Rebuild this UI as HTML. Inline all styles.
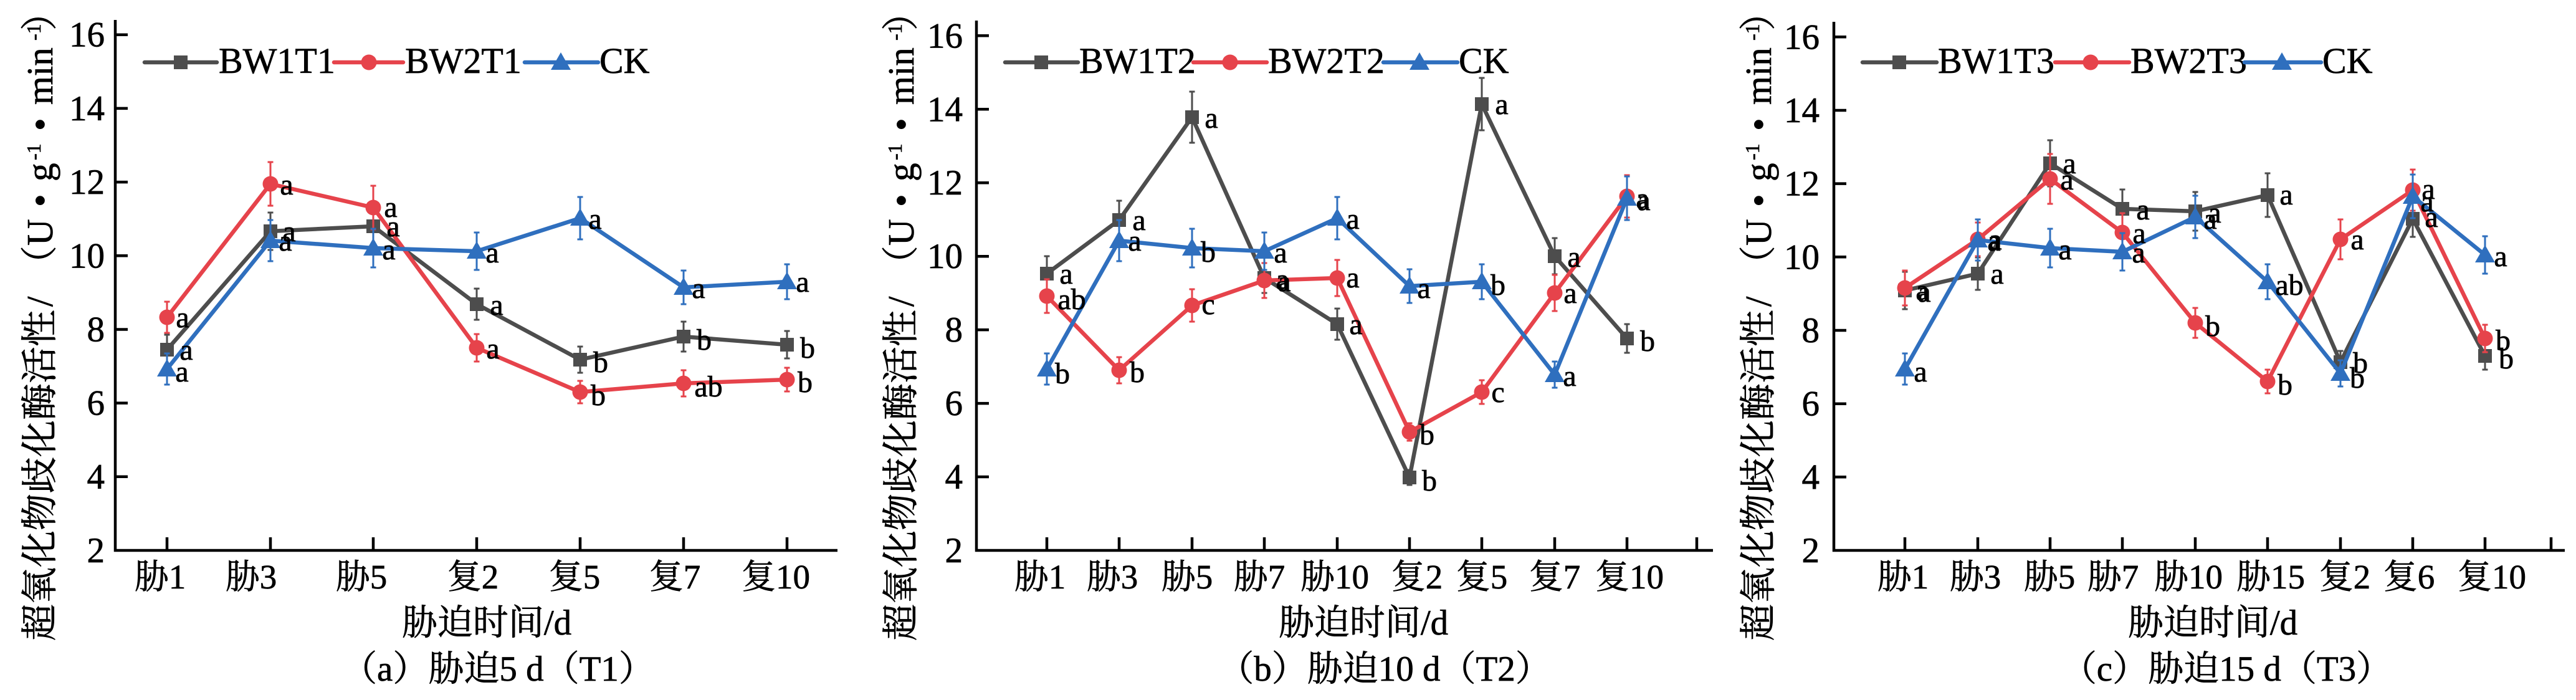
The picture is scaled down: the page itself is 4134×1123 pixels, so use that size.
<!DOCTYPE html>
<html><head><meta charset="utf-8"><style>
html,body{margin:0;padding:0;background:#fff;}
svg{display:block;}
text{font-family:"Liberation Serif","Noto Serif CJK SC",serif;fill:#000;stroke:#000;stroke-width:0.7px;}
.ax{stroke:#000;stroke-width:4.5;fill:none;}
.eg{stroke:#4d4d4d;stroke-width:3;fill:none;}
.er{stroke:#e6434b;stroke-width:3;fill:none;}
.eb{stroke:#2f6fbe;stroke-width:3;fill:none;}
.lg{stroke:#4d4d4d;stroke-width:6.5;fill:none;stroke-linejoin:round;stroke-linecap:round;}
.lr{stroke:#e6434b;stroke-width:6.5;fill:none;stroke-linejoin:round;stroke-linecap:round;}
.lb{stroke:#2f6fbe;stroke-width:6.5;fill:none;stroke-linejoin:round;stroke-linecap:round;}
.yl{font-size:57px;text-anchor:end;}
.xl{font-size:55px;text-anchor:middle;}
.lt{font-size:48px;text-anchor:middle;}
.lgt{font-size:58px;}
.ttl{font-size:57px;text-anchor:middle;}
</style></head><body>
<svg width="4134" height="1123" viewBox="0 0 4134 1123" xmlns="http://www.w3.org/2000/svg" font-family="Liberation Serif, Noto Serif CJK SC, serif">
<rect width="4134" height="1123" fill="#fff"/>
<defs>
<rect id="sq" x="-11" y="-11" width="22" height="22"/>
<circle id="ci" r="12.5"/>
<path id="tri" d="M0,-16L16,12L-16,12Z"/>
</defs>

<!-- ================= PANEL 1 ================= -->
<path class="ax" d="M185 32V883H1344"/>
<path class="ax" d="M185 55.7h20M185 173.9h20M185 292.1h20M185 410.3h20M185 528.5h20M185 646.6h20M185 764.8h20"/>
<path class="ax" d="M268 883v-21M434 883v-21M599 883v-21M765 883v-21M931 883v-21M1097 883v-21M1263 883v-21"/>
<text class="yl" x="168" y="74.7">16</text>
<text class="yl" x="168" y="192.9">14</text>
<text class="yl" x="168" y="311.1">12</text>
<text class="yl" x="168" y="429.3">10</text>
<text class="yl" x="168" y="547.5">8</text>
<text class="yl" x="168" y="665.6">6</text>
<text class="yl" x="168" y="783.8">4</text>
<text class="yl" x="168" y="902">2</text>
<text class="xl" x="257" y="944">胁1</text>
<text class="xl" x="403" y="944">胁3</text>
<text class="xl" x="580" y="944">胁5</text>
<text class="xl" x="759" y="944">复2</text>
<text class="xl" x="922" y="944">复5</text>
<text class="xl" x="1083" y="944">复7</text>
<text class="xl" x="1245" y="944">复10</text>
<text class="ttl" x="781" y="1018">胁迫时间/d</text>
<text class="ttl" x="799" y="1092">（a）胁迫5 d（T1）</text>
<text transform="translate(84,1024) rotate(-90)" font-size="59"><tspan x="-4" y="0">超氧化物歧化酶活性</tspan><tspan x="532" y="0">/</tspan><tspan x="571" y="0">（</tspan><tspan x="630" y="0">U</tspan><tspan x="692" y="0">•</tspan><tspan x="733" y="0">g</tspan><tspan x="767" y="-19" font-size="32">-1</tspan><tspan x="814" y="0">•</tspan><tspan x="856" y="0">min</tspan><tspan x="959" y="-19" font-size="32">-1</tspan><tspan x="975" y="0">）</tspan></text>

<path class="eg" d="M268 537V585M263.5 537h9M263.5 585h9M434 341V401M429.5 341h9M429.5 401h9M599 333V393M594.5 333h9M594.5 393h9M765 463V513M760.5 463h9M760.5 513h9M931 556V598M926.5 556h9M926.5 598h9M1097 516V564M1092.5 516h9M1092.5 564h9M1263 531V575M1258.5 531h9M1258.5 575h9"/>
<polyline class="lg" points="268,561 434,371 599,363 765,488 931,577 1097,540 1263,553"/>
<g fill="#4d4d4d"><use href="#sq" x="268" y="561"/><use href="#sq" x="434" y="371"/><use href="#sq" x="599" y="363"/><use href="#sq" x="765" y="488"/><use href="#sq" x="931" y="577"/><use href="#sq" x="1097" y="540"/><use href="#sq" x="1263" y="553"/></g>
<path class="er" d="M268 484V534M263.5 484h9M263.5 534h9M434 260V330M429.5 260h9M429.5 330h9M599 298V368M594.5 298h9M594.5 368h9M765 536V580M760.5 536h9M760.5 580h9M931 611V647M926.5 611h9M926.5 647h9M1097 594V636M1092.5 594h9M1092.5 636h9M1263 590V628M1258.5 590h9M1258.5 628h9"/>
<polyline class="lr" points="268,509 434,295 599,333 765,558 931,629 1097,615 1263,609"/>
<g fill="#e6434b"><use href="#ci" x="268" y="509"/><use href="#ci" x="434" y="295"/><use href="#ci" x="599" y="333"/><use href="#ci" x="765" y="558"/><use href="#ci" x="931" y="629"/><use href="#ci" x="1097" y="615"/><use href="#ci" x="1263" y="609"/></g>
<path class="eb" d="M268 567V617M263.5 567h9M263.5 617h9M434 353V419M429.5 353h9M429.5 419h9M599 367V429M594.5 367h9M594.5 429h9M765 373V433M760.5 373h9M760.5 433h9M931 316V384M926.5 316h9M926.5 384h9M1097 434V488M1092.5 434h9M1092.5 488h9M1263 424V480M1258.5 424h9M1258.5 480h9"/>
<polyline class="lb" points="268,592 434,386 599,398 765,403 931,350 1097,461 1263,452"/>
<g fill="#2f6fbe"><use href="#tri" x="268" y="592"/><use href="#tri" x="434" y="386"/><use href="#tri" x="599" y="398"/><use href="#tri" x="765" y="403"/><use href="#tri" x="931" y="350"/><use href="#tri" x="1097" y="461"/><use href="#tri" x="1263" y="452"/></g>
<g>
<text class="lt" x="293" y="525">a</text><text class="lt" x="299" y="577">a</text><text class="lt" x="292" y="612">a</text>
<text class="lt" x="460" y="312">a</text><text class="lt" x="464" y="387">a</text><text class="lt" x="458" y="402">a</text>
<text class="lt" x="627" y="348">a</text><text class="lt" x="631" y="379">a</text><text class="lt" x="624" y="416">a</text>
<text class="lt" x="790" y="421">a</text><text class="lt" x="797" y="505">a</text><text class="lt" x="791" y="575">a</text>
<text class="lt" x="955" y="367">a</text><text class="lt" x="964" y="597">b</text><text class="lt" x="960" y="650">b</text>
<text class="lt" x="1121" y="478">a</text><text class="lt" x="1130" y="561">b</text><text class="lt" x="1137" y="636">ab</text>
<text class="lt" x="1288" y="468">a</text><text class="lt" x="1296" y="574">b</text><text class="lt" x="1292" y="629">b</text>
</g>
<line class="lg" x1="232" y1="100" x2="348" y2="100"/><use href="#sq" x="290" y="100" fill="#4d4d4d"/>
<text class="lgt" x="351" y="117">BW1T1</text>
<line class="lr" x1="536" y1="100" x2="647" y2="100"/><use href="#ci" x="592" y="100" fill="#e6434b"/>
<text class="lgt" x="650" y="117">BW2T1</text>
<line class="lb" x1="842" y1="100" x2="960" y2="100"/><use href="#tri" x="900" y="100" fill="#2f6fbe"/>
<text class="lgt" x="962" y="117">CK</text>

<!-- ================= PANEL 2 ================= -->
<path class="ax" d="M1567 33V883H2749"/>
<path class="ax" d="M1567 57.3h20M1567 175.3h20M1567 293.2h20M1567 411.2h20M1567 529.1h20M1567 647.1h20M1567 765h20"/>
<path class="ax" d="M1680 883v-21M1796 883v-21M1913 883v-21M2029 883v-21M2146 883v-21M2262 883v-21M2378 883v-21M2495 883v-21M2611 883v-21M2723 883v-21"/>
<text class="yl" x="1545" y="76.3">16</text>
<text class="yl" x="1545" y="194.3">14</text>
<text class="yl" x="1545" y="312.2">12</text>
<text class="yl" x="1545" y="430.2">10</text>
<text class="yl" x="1545" y="548.1">8</text>
<text class="yl" x="1545" y="666.1">6</text>
<text class="yl" x="1545" y="784">4</text>
<text class="yl" x="1545" y="902">2</text>
<text class="xl" x="1669" y="944">胁1</text>
<text class="xl" x="1785" y="944">胁3</text>
<text class="xl" x="1905" y="944">胁5</text>
<text class="xl" x="2021" y="944">胁7</text>
<text class="xl" x="2142" y="944">胁10</text>
<text class="xl" x="2274" y="944">复2</text>
<text class="xl" x="2378" y="944">复5</text>
<text class="xl" x="2495" y="944">复7</text>
<text class="xl" x="2615" y="944">复10</text>
<text class="ttl" x="2188" y="1018">胁迫时间/d</text>
<text class="ttl" x="2222" y="1092">（b）胁迫10 d（T2）</text>
<text transform="translate(1466,1024) rotate(-90)" font-size="59"><tspan x="-4" y="0">超氧化物歧化酶活性</tspan><tspan x="532" y="0">/</tspan><tspan x="571" y="0">（</tspan><tspan x="630" y="0">U</tspan><tspan x="692" y="0">•</tspan><tspan x="733" y="0">g</tspan><tspan x="767" y="-19" font-size="32">-1</tspan><tspan x="814" y="0">•</tspan><tspan x="856" y="0">min</tspan><tspan x="959" y="-19" font-size="32">-1</tspan><tspan x="975" y="0">）</tspan></text>

<path class="eg" d="M1680 411V467M1675.5 411h9M1675.5 467h9M1796 322V384M1791.5 322h9M1791.5 384h9M1913 147V229M1908.5 147h9M1908.5 229h9M2029 422V470M2024.5 422h9M2024.5 470h9M2146 495V545M2141.5 495h9M2141.5 545h9M2262 754V778M2257.5 754h9M2257.5 778h9M2378 125V209M2373.5 125h9M2373.5 209h9M2495 382V440M2490.5 382h9M2490.5 440h9M2611 520V566M2606.5 520h9M2606.5 566h9"/>
<polyline class="lg" points="1680,439 1796,353 1913,188 2029,446 2146,520 2262,766 2378,167 2495,411 2611,543"/>
<g fill="#4d4d4d"><use href="#sq" x="1680" y="439"/><use href="#sq" x="1796" y="353"/><use href="#sq" x="1913" y="188"/><use href="#sq" x="2029" y="446"/><use href="#sq" x="2146" y="520"/><use href="#sq" x="2262" y="766"/><use href="#sq" x="2378" y="167"/><use href="#sq" x="2495" y="411"/><use href="#sq" x="2611" y="543"/></g>
<path class="er" d="M1680 448V502M1675.5 448h9M1675.5 502h9M1796 573V615M1791.5 573h9M1791.5 615h9M1913 464V516M1908.5 464h9M1908.5 516h9M2029 422V478M2024.5 422h9M2024.5 478h9M2146 417V475M2141.5 417h9M2141.5 475h9M2262 679V707M2257.5 679h9M2257.5 707h9M2378 610V648M2373.5 610h9M2373.5 648h9M2495 441V499M2490.5 441h9M2490.5 499h9M2611 281V349M2606.5 281h9M2606.5 349h9"/>
<polyline class="lr" points="1680,475 1796,594 1913,490 2029,450 2146,446 2262,693 2378,629 2495,470 2611,315"/>
<g fill="#e6434b"><use href="#ci" x="1680" y="475"/><use href="#ci" x="1796" y="594"/><use href="#ci" x="1913" y="490"/><use href="#ci" x="2029" y="450"/><use href="#ci" x="2146" y="446"/><use href="#ci" x="2262" y="693"/><use href="#ci" x="2378" y="629"/><use href="#ci" x="2495" y="470"/><use href="#ci" x="2611" y="315"/></g>
<path class="eb" d="M1680 567V617M1675.5 567h9M1675.5 617h9M1796 353V419M1791.5 353h9M1791.5 419h9M1913 367V429M1908.5 367h9M1908.5 429h9M2029 373V433M2024.5 373h9M2024.5 433h9M2146 316V384M2141.5 316h9M2141.5 384h9M2262 432V486M2257.5 432h9M2257.5 486h9M2378 424V480M2373.5 424h9M2373.5 480h9M2495 580V622M2490.5 580h9M2490.5 622h9M2611 283V353M2606.5 283h9M2606.5 353h9"/>
<polyline class="lb" points="1680,592 1796,386 1913,398 2029,403 2146,350 2262,459 2378,452 2495,601 2611,318"/>
<g fill="#2f6fbe"><use href="#tri" x="1680" y="592"/><use href="#tri" x="1796" y="386"/><use href="#tri" x="1913" y="398"/><use href="#tri" x="2029" y="403"/><use href="#tri" x="2146" y="350"/><use href="#tri" x="2262" y="459"/><use href="#tri" x="2378" y="452"/><use href="#tri" x="2495" y="601"/><use href="#tri" x="2611" y="318"/></g>
<g>
<text class="lt" x="1711" y="455">a</text><text class="lt" x="1720" y="496">ab</text><text class="lt" x="1705" y="615">b</text>
<text class="lt" x="1828" y="369">a</text><text class="lt" x="1821" y="402">a</text><text class="lt" x="1825" y="613">b</text>
<text class="lt" x="1944" y="205">a</text><text class="lt" x="1939" y="420">b</text><text class="lt" x="1939" y="504">c</text>
<text class="lt" x="2055" y="421">a</text><text class="lt" x="2058" y="464">a</text><text class="lt" x="2061" y="467">a</text>
<text class="lt" x="2171" y="367">a</text><text class="lt" x="2171" y="461">a</text><text class="lt" x="2176" y="536">a</text>
<text class="lt" x="2285" y="478">a</text><text class="lt" x="2290" y="713">b</text><text class="lt" x="2294" y="787">b</text>
<text class="lt" x="2410" y="183">a</text><text class="lt" x="2404" y="473">b</text><text class="lt" x="2404" y="645">c</text>
<text class="lt" x="2526" y="428">a</text><text class="lt" x="2520" y="486">a</text><text class="lt" x="2519" y="619">a</text>
<text class="lt" x="2636" y="334">a</text><text class="lt" x="2638" y="337">a</text><text class="lt" x="2644" y="563">b</text>
</g>
<line class="lg" x1="1613" y1="100" x2="1730" y2="100"/><use href="#sq" x="1671" y="100" fill="#4d4d4d"/>
<text class="lgt" x="1732" y="117">BW1T2</text>
<line class="lr" x1="1915" y1="100" x2="2033" y2="100"/><use href="#ci" x="1974" y="100" fill="#e6434b"/>
<text class="lgt" x="2035" y="117">BW2T2</text>
<line class="lb" x1="2220" y1="100" x2="2339" y2="100"/><use href="#tri" x="2278" y="100" fill="#2f6fbe"/>
<text class="lgt" x="2341" y="117">CK</text>

<!-- ================= PANEL 3 ================= -->
<path class="ax" d="M2943 35V883H4116"/>
<path class="ax" d="M2943 59.3h20M2943 177h20M2943 294.6h20M2943 412.3h20M2943 530h20M2943 647.7h20M2943 765.3h20"/>
<path class="ax" d="M3057 883v-21M3174 883v-21M3290 883v-21M3406 883v-21M3523 883v-21M3639 883v-21M3756 883v-21M3872 883v-21M3988 883v-21M4094 883v-21"/>
<text class="yl" x="2920" y="78.3">16</text>
<text class="yl" x="2920" y="196">14</text>
<text class="yl" x="2920" y="313.6">12</text>
<text class="yl" x="2920" y="431.3">10</text>
<text class="yl" x="2920" y="549">8</text>
<text class="yl" x="2920" y="666.7">6</text>
<text class="yl" x="2920" y="784.3">4</text>
<text class="yl" x="2920" y="902">2</text>
<text class="xl" x="3054" y="944">胁1</text>
<text class="xl" x="3170" y="944">胁3</text>
<text class="xl" x="3289" y="944">胁5</text>
<text class="xl" x="3391" y="944">胁7</text>
<text class="xl" x="3512" y="944">胁10</text>
<text class="xl" x="3644" y="944">胁15</text>
<text class="xl" x="3763" y="944">复2</text>
<text class="xl" x="3866" y="944">复6</text>
<text class="xl" x="3999" y="944">复10</text>
<text class="ttl" x="3551" y="1018">胁迫时间/d</text>
<text class="ttl" x="3573" y="1092">（c）胁迫15 d（T3）</text>
<text transform="translate(2842,1024) rotate(-90)" font-size="59"><tspan x="-4" y="0">超氧化物歧化酶活性</tspan><tspan x="532" y="0">/</tspan><tspan x="571" y="0">（</tspan><tspan x="630" y="0">U</tspan><tspan x="692" y="0">•</tspan><tspan x="733" y="0">g</tspan><tspan x="767" y="-19" font-size="32">-1</tspan><tspan x="814" y="0">•</tspan><tspan x="856" y="0">min</tspan><tspan x="959" y="-19" font-size="32">-1</tspan><tspan x="975" y="0">）</tspan></text>

<path class="eg" d="M3057 436V496M3052.5 436h9M3052.5 496h9M3174 413V465M3169.5 413h9M3169.5 465h9M3290 225V299M3285.5 225h9M3285.5 299h9M3406 304V366M3401.5 304h9M3401.5 366h9M3523 308V370M3518.5 308h9M3518.5 370h9M3639 278V348M3634.5 278h9M3634.5 348h9M3756 563V599M3751.5 563h9M3751.5 599h9M3872 322V380M3867.5 322h9M3867.5 380h9M3988 549V593M3983.5 549h9M3983.5 593h9"/>
<polyline class="lg" points="3057,466 3174,439 3290,262 3406,335 3523,339 3639,313 3756,581 3872,351 3988,571"/>
<g fill="#4d4d4d"><use href="#sq" x="3057" y="466"/><use href="#sq" x="3174" y="439"/><use href="#sq" x="3290" y="262"/><use href="#sq" x="3406" y="335"/><use href="#sq" x="3523" y="339"/><use href="#sq" x="3639" y="313"/><use href="#sq" x="3756" y="581"/><use href="#sq" x="3872" y="351"/><use href="#sq" x="3988" y="571"/></g>
<path class="er" d="M3057 434V490M3052.5 434h9M3052.5 490h9M3174 357V411M3169.5 357h9M3169.5 411h9M3290 247V327M3285.5 247h9M3285.5 327h9M3406 342V404M3401.5 342h9M3401.5 404h9M3523 494V542M3518.5 494h9M3518.5 542h9M3639 593V631M3634.5 593h9M3634.5 631h9M3756 352V416M3751.5 352h9M3751.5 416h9M3872 272V338M3867.5 272h9M3867.5 338h9M3988 521V565M3983.5 521h9M3983.5 565h9"/>
<polyline class="lr" points="3057,462 3174,384 3290,287 3406,373 3523,518 3639,612 3756,384 3872,305 3988,543"/>
<g fill="#e6434b"><use href="#ci" x="3057" y="462"/><use href="#ci" x="3174" y="384"/><use href="#ci" x="3290" y="287"/><use href="#ci" x="3406" y="373"/><use href="#ci" x="3523" y="518"/><use href="#ci" x="3639" y="612"/><use href="#ci" x="3756" y="384"/><use href="#ci" x="3872" y="305"/><use href="#ci" x="3988" y="543"/></g>
<path class="eb" d="M3057 567V617M3052.5 567h9M3052.5 617h9M3174 352V418M3169.5 352h9M3169.5 418h9M3290 367V429M3285.5 367h9M3285.5 429h9M3406 374V434M3401.5 374h9M3401.5 434h9M3523 314V382M3518.5 314h9M3518.5 382h9M3639 424V480M3634.5 424h9M3634.5 480h9M3756 578V620M3751.5 578h9M3751.5 620h9M3872 280V350M3867.5 280h9M3867.5 350h9M3988 379V439M3983.5 379h9M3983.5 439h9"/>
<polyline class="lb" points="3057,592 3174,385 3290,398 3406,404 3523,348 3639,452 3756,599 3872,315 3988,409"/>
<g fill="#2f6fbe"><use href="#tri" x="3057" y="592"/><use href="#tri" x="3174" y="385"/><use href="#tri" x="3290" y="398"/><use href="#tri" x="3406" y="404"/><use href="#tri" x="3523" y="348"/><use href="#tri" x="3639" y="452"/><use href="#tri" x="3756" y="599"/><use href="#tri" x="3872" y="315"/><use href="#tri" x="3988" y="409"/></g>
<g>
<text class="lt" x="3085" y="481">a</text><text class="lt" x="3088" y="484">a</text><text class="lt" x="3082" y="612">a</text>
<text class="lt" x="3200" y="402">a</text><text class="lt" x="3202" y="400">a</text><text class="lt" x="3205" y="455">a</text>
<text class="lt" x="3321" y="278">a</text><text class="lt" x="3317" y="304">a</text><text class="lt" x="3314" y="416">a</text>
<text class="lt" x="3439" y="352">a</text><text class="lt" x="3433" y="390">a</text><text class="lt" x="3432" y="421">a</text>
<text class="lt" x="3554" y="357">a</text><text class="lt" x="3547" y="367">a</text><text class="lt" x="3551" y="539">b</text>
<text class="lt" x="3669" y="328">a</text><text class="lt" x="3674" y="473">ab</text><text class="lt" x="3667" y="633">b</text>
<text class="lt" x="3783" y="400">a</text><text class="lt" x="3788" y="598">b</text><text class="lt" x="3783" y="622">b</text>
<text class="lt" x="3897" y="319">a</text><text class="lt" x="3895" y="339">a</text><text class="lt" x="3902" y="364">a</text>
<text class="lt" x="4013" y="427">a</text><text class="lt" x="4017" y="562">b</text><text class="lt" x="4022" y="591">b</text>
</g>
<line class="lg" x1="2989" y1="100" x2="3108" y2="100"/><use href="#sq" x="3048" y="100" fill="#4d4d4d"/>
<text class="lgt" x="3110" y="117">BW1T3</text>
<line class="lr" x1="3298" y1="100" x2="3417" y2="100"/><use href="#ci" x="3355" y="100" fill="#e6434b"/>
<text class="lgt" x="3419" y="117">BW2T3</text>
<line class="lb" x1="3602" y1="100" x2="3725" y2="100"/><use href="#tri" x="3662" y="100" fill="#2f6fbe"/>
<text class="lgt" x="3727" y="117">CK</text>
</svg>
</body></html>
